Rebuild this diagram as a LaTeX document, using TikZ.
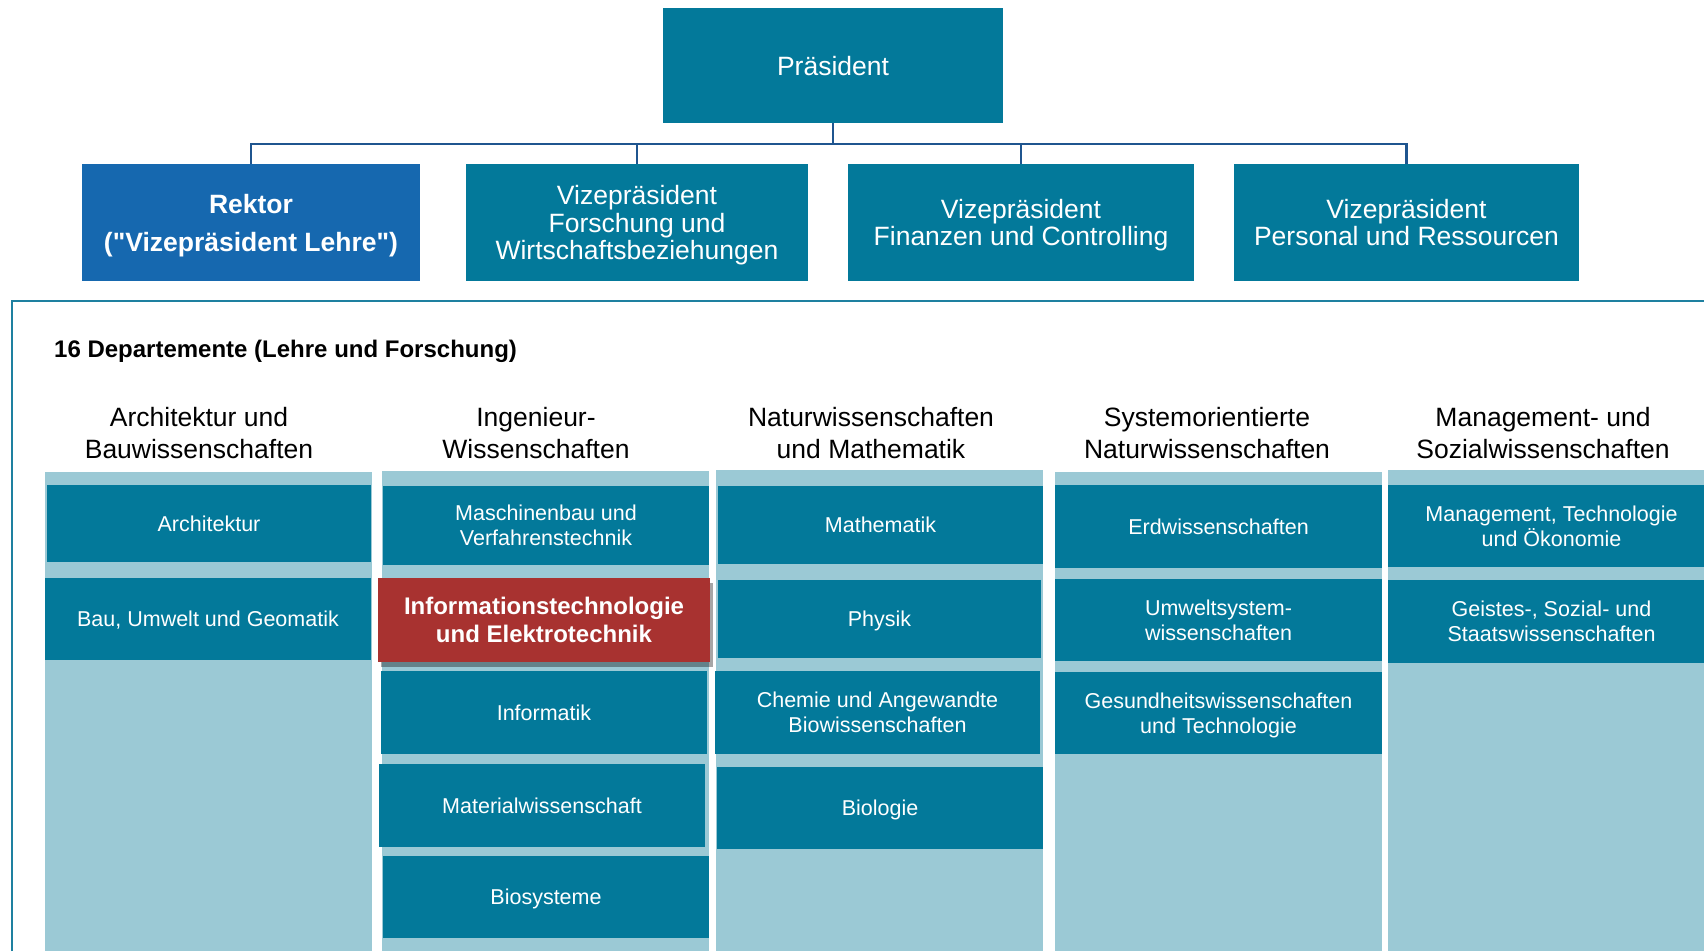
\documentclass[tikz,border=0pt]{standalone}
\usepackage{fontspec}
\setmainfont{Liberation Sans}
\newfontfamily\plainquotes{Liberation Sans}
\usetikzlibrary{shadows}
\definecolor{tealbox}{HTML}{03799A}
\definecolor{lightcol}{HTML}{9BC9D5}
\definecolor{rekblue}{HTML}{1668AF}
\definecolor{redbox}{HTML}{A83230}
\definecolor{connline}{HTML}{1F558F}
\definecolor{frameline}{HTML}{1E80A0}
\begin{document}
\begin{tikzpicture}[x=1pt,y=-1pt,
  topbox/.style={fill=tealbox, text=white, inner sep=0pt, align=center, text depth=0pt,
    font=\fontsize{26.5}{27.5}\selectfont},
  rekbox/.style={fill=rekblue, text=white, inner sep=0pt, align=center, text depth=0pt,
    font=\plainquotes\bfseries\fontsize{26.5}{38}\selectfont},
  dept/.style={fill=tealbox, text=white, inner sep=0pt, align=center, text depth=0pt,
    font=\fontsize{21.5}{25}\selectfont},
  deptred/.style={fill=redbox, text=white, inner sep=0pt, align=center, text depth=0pt,
    font=\bfseries\fontsize{24}{28.5}\selectfont,
    drop shadow={shadow xshift=3pt, shadow yshift=-5pt, opacity=0.35, fill=black}},
  colhead/.style={text=black, inner sep=0pt, align=center, text depth=0pt,
    font=\fontsize{26.5}{31.5}\selectfont},
  connector/.style={draw=connline, line width=2.6pt},
  colbg/.style={fill=lightcol}
]
\useasboundingbox (0,0) rectangle (1704,951);
\fill[white] (0,0) rectangle (1704,951);

% frame
\draw[frameline, line width=2.4pt] (12,951) -- (12,301) -- (1704,301);

% top level
\node[topbox, minimum width=340pt, minimum height=115pt] (pres) at (833,65.5) {Präsident};
\node[rekbox, minimum width=338pt, minimum height=117pt] (rektor) at (251,222.5) {Rektor\\("Vizepräsident Lehre")};
\node[topbox, minimum width=342pt, minimum height=117pt] (vp1) at (637,222.5) {Vizepräsident\\Forschung und\\Wirtschaftsbeziehungen};
\node[topbox, minimum width=346pt, minimum height=117pt] (vp2) at (1021,222.5) {Vizepräsident\\Finanzen und Controlling};
\node[topbox, minimum width=345pt, minimum height=117pt] (vp3) at (1406.5,222.5) {Vizepräsident\\Personal und Ressourcen};

\coordinate (bus) at (0,144);
\draw[connector] (pres.south) -- (pres.south |- bus) -| (rektor.north);
\draw[connector] (pres.south |- bus) -| (vp1.north);
\draw[connector] (pres.south |- bus) -| (vp2.north);
\draw[connector] (pres.south |- bus) -| (vp3.north);

% title
\node[anchor=west, inner sep=0pt, font=\bfseries\fontsize{24}{28}\selectfont] (title) at (54,351) {16 Departemente (Lehre und Forschung)};

% column headers
\node[colhead] (h1) at (199,433) {Architektur und\\Bauwissenschaften};
\node[colhead] (h2) at (536,433) {Ingenieur-\\Wissenschaften};
\node[colhead] (h3) at (871,433) {Naturwissenschaften\\und Mathematik};
\node[colhead] (h4) at (1207,433) {Systemorientierte\\Naturwissenschaften};
\node[colhead] (h5) at (1543,433) {Management- und\\Sozialwissenschaften};

% column backgrounds
\fill[colbg] (45,472) rectangle (372,951);
\fill[colbg] (382,471) rectangle (709,951);
\fill[colbg] (716,470) rectangle (1043,951);
\fill[colbg] (1055,472) rectangle (1382,951);
\fill[colbg] (1388,470) rectangle (1715,951);

% column 1
\node[dept, minimum width=324pt, minimum height=77pt] (arch) at (209,523.5) {Architektur};
\node[dept, minimum width=326pt, minimum height=82pt] (bau) at (208,619) {Bau, Umwelt und Geomatik};
% column 2
\node[dept, minimum width=326pt, minimum height=79pt] (masch) at (546,525.5) {Maschinenbau und\\Verfahrenstechnik};
\node[dept, minimum width=326pt, minimum height=83pt] (inf) at (544,712.5) {Informatik};
\node[dept, minimum width=326pt, minimum height=83pt] (mat) at (542,805.5) {Materialwissenschaft};
\node[dept, minimum width=326pt, minimum height=82pt] (bios) at (546,897) {Biosysteme};
\node[deptred, minimum width=332pt, minimum height=84pt] (itet) at (544,620) {Informationstechnologie\\und Elektrotechnik};
% column 3
\node[dept, minimum width=325pt, minimum height=78pt] (math) at (880.5,525) {Mathematik};
\node[dept, minimum width=323pt, minimum height=78pt] (phys) at (879.5,619) {Physik};
\node[dept, minimum width=325pt, minimum height=83pt] (chem) at (877.5,712.5) {Chemie und Angewandte\\Biowissenschaften};
\node[dept, minimum width=326pt, minimum height=82pt] (biol) at (880,808) {Biologie};
% column 4
\node[dept, minimum width=327pt, minimum height=83pt] (erd) at (1218.5,526.5) {Erdwissenschaften};
\node[dept, minimum width=327pt, minimum height=82pt] (umw) at (1218.5,620) {Umweltsystem-\\wissenschaften};
\node[dept, minimum width=327pt, minimum height=82pt] (ges) at (1218.5,713) {Gesundheitswissenschaften\\und Technologie};
% column 5
\node[dept, minimum width=327pt, minimum height=82pt] (mgmt) at (1551.5,526) {Management, Technologie\\und Ökonomie};
\node[dept, minimum width=327pt, minimum height=83pt] (geist) at (1551.5,621.5) {Geistes-, Sozial- und\\Staatswissenschaften};
\end{tikzpicture}
\end{document}
